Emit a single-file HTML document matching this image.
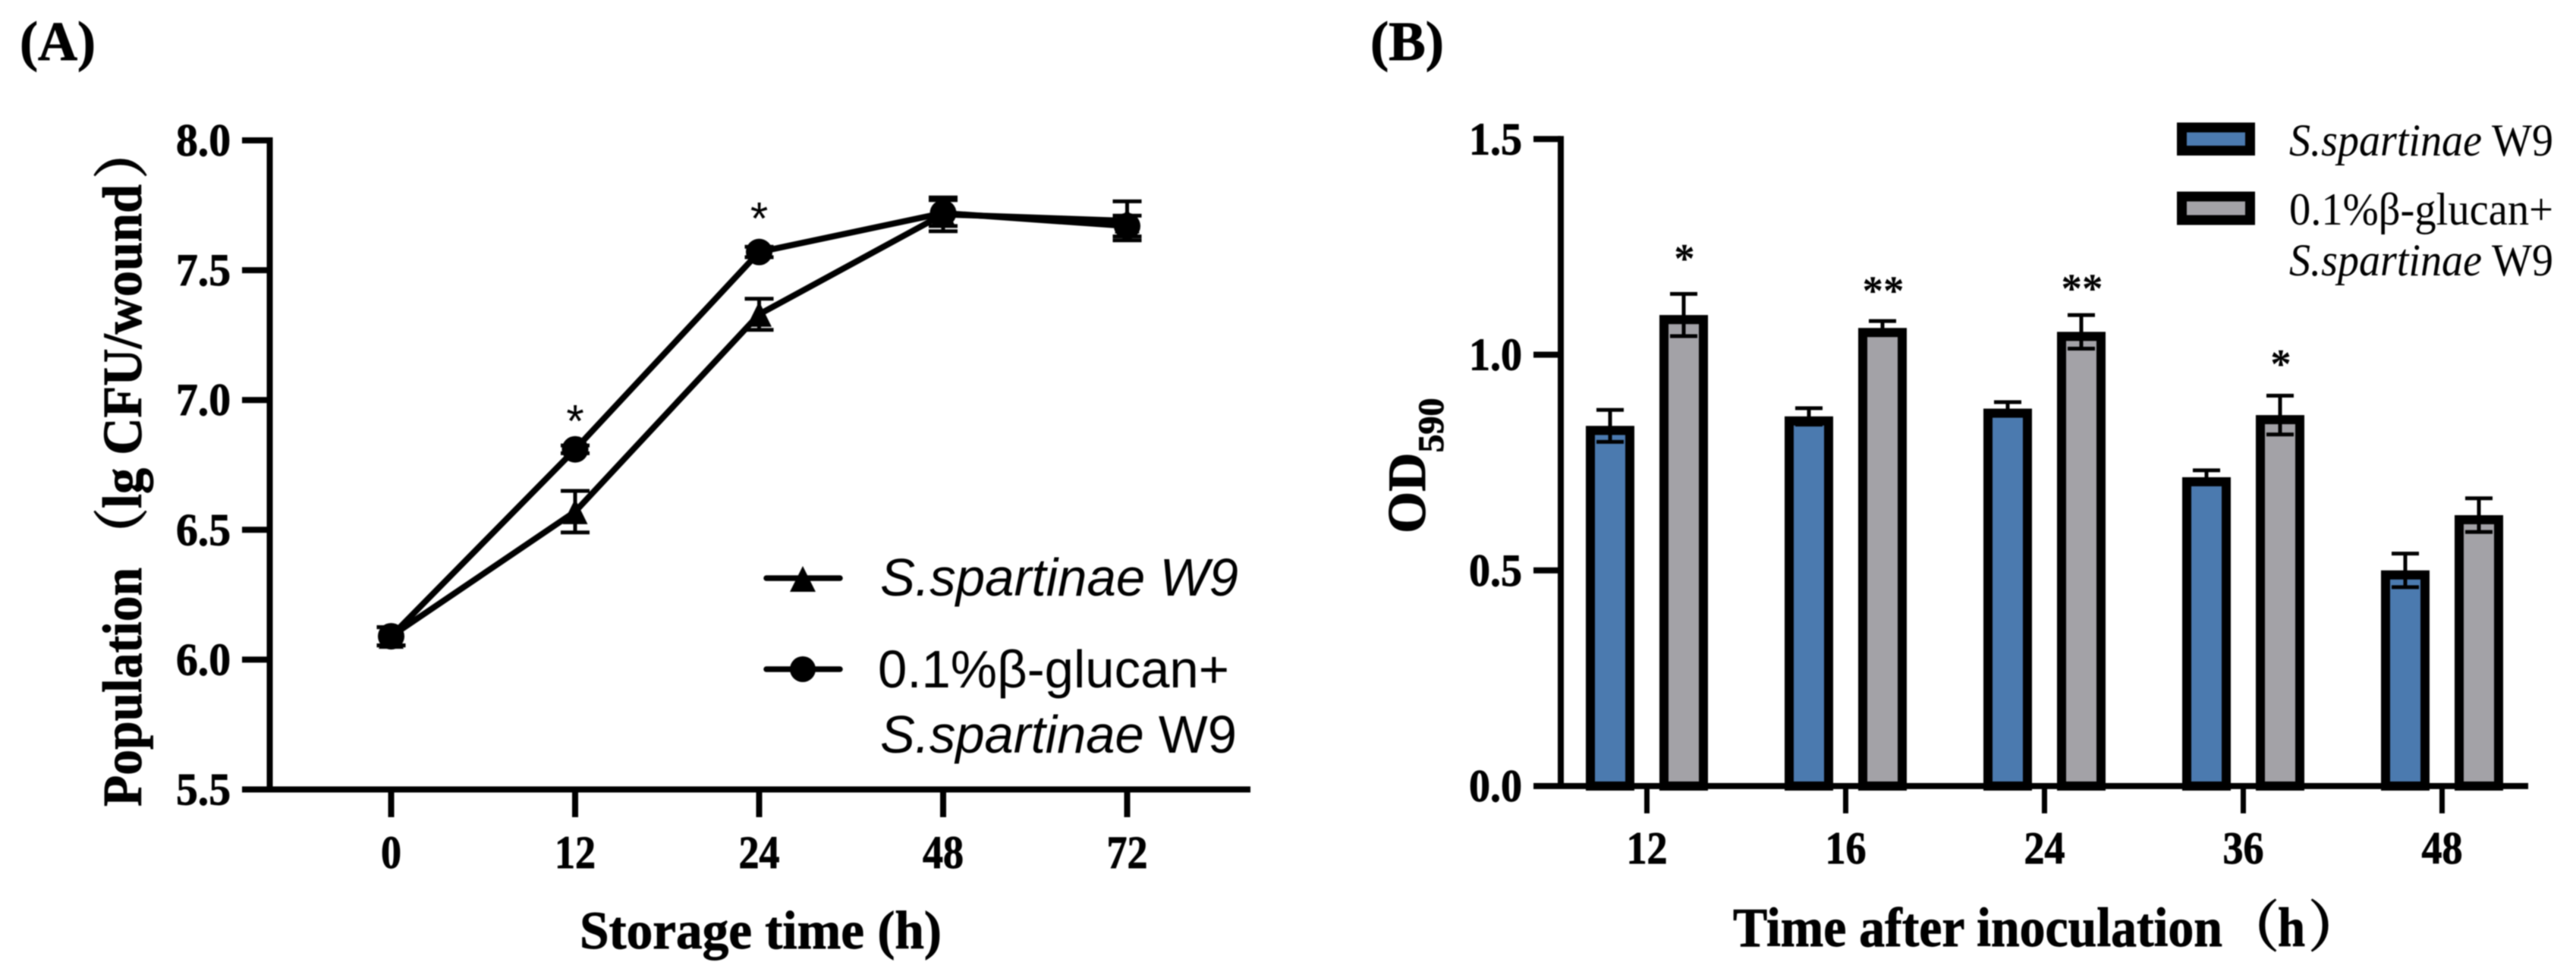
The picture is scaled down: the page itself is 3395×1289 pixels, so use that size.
<!DOCTYPE html>
<html lang="en">
<head>
<meta charset="utf-8">
<title>Population and OD590 of S. spartinae W9</title>
<style>
html,body{margin:0;padding:0;background:#fff;}
svg{display:block;width:3395px;height:1289px;filter:blur(0.7px);}
.serif{font-family:"Liberation Serif","Noto Serif CJK SC",serif;}
.bold{font-weight:bold;stroke:#000;stroke-width:0.9px;}
.sans{font-family:"Liberation Sans",sans-serif;}
</style>
</head>
<body>
<svg id="figure" xmlns="http://www.w3.org/2000/svg" width="3395" height="1289" viewBox="0 0 3395 1289">
  <rect x="0" y="0" width="3395" height="1289" fill="#fff"/>

  <text class="serif bold" x="26" y="79" font-size="73" textLength="100" lengthAdjust="spacingAndGlyphs">(A)</text>
  <text class="serif bold" x="1806" y="79" font-size="73" textLength="97" lengthAdjust="spacingAndGlyphs">(B)</text>

  <g id="chart-a"></g>
  <g id="chart-b"></g>

  <g>
    <text class="serif bold" transform="translate(186,1063) rotate(-90)" font-size="73" textLength="315" lengthAdjust="spacingAndGlyphs">Population</text>
    <text class="serif bold" transform="translate(186,742) rotate(-90)" font-size="73">（</text>
    <text class="serif bold" transform="translate(186,670) rotate(-90)" font-size="73" textLength="427" lengthAdjust="spacingAndGlyphs">lg CFU/wound</text>
    <text class="serif bold" transform="translate(186,236) rotate(-90)" font-size="73">）</text>
  </g>
  <text class="serif bold" x="764" y="1250" font-size="71" textLength="477" lengthAdjust="spacingAndGlyphs">Storage time (h)</text>

  <g>
    <line x1="1010" y1="762" x2="1107" y2="762" stroke="#000" stroke-width="7.5" stroke-linecap="round"/>
    <polygon points="1058,746 1075,780 1041,780" fill="#000"/>
    <text class="sans" x="1160" y="785" font-size="70" font-style="italic" textLength="472" lengthAdjust="spacingAndGlyphs">S.spartinae W9</text>
    <line x1="1010" y1="882" x2="1107" y2="882" stroke="#000" stroke-width="7.5" stroke-linecap="round"/>
    <circle cx="1058" cy="882" r="17" fill="#000"/>
    <text class="sans" x="1157" y="906" font-size="70" textLength="463" lengthAdjust="spacingAndGlyphs">0.1%β-glucan+</text>
    <text class="sans" x="1160" y="992" font-size="70" textLength="470" lengthAdjust="spacingAndGlyphs"><tspan font-style="italic">S.spartinae</tspan> W9</text>
  </g>

  <text class="serif bold" transform="translate(1878,703) rotate(-90)" font-size="71">OD<tspan font-size="48" dy="24">590</tspan></text>
  <g>
    <text class="serif bold" x="2284" y="1247" font-size="73" textLength="645" lengthAdjust="spacingAndGlyphs">Time after inoculation</text>
    <text class="serif bold" x="2931" y="1247" font-size="73">（</text>
    <text class="serif bold" x="3002" y="1247" font-size="73" textLength="36" lengthAdjust="spacingAndGlyphs">h</text>
    <text class="serif bold" x="3042" y="1247" font-size="73">）</text>
  </g>

  <g>
    <rect x="2875.5" y="168" width="90" height="30.5" fill="#4b7aaf" stroke="#000" stroke-width="13"/>
    <text class="serif" x="3017" y="205" font-size="60" textLength="348" lengthAdjust="spacingAndGlyphs"><tspan font-style="italic">S.spartinae</tspan> W9</text>
    <rect x="2875.5" y="259" width="90" height="31" fill="#a3a2a7" stroke="#000" stroke-width="13"/>
    <text class="serif" x="3017" y="296" font-size="60" textLength="348" lengthAdjust="spacingAndGlyphs">0.1%β-glucan+</text>
    <text class="serif" x="3017" y="363" font-size="60" textLength="348" lengthAdjust="spacingAndGlyphs"><tspan font-style="italic">S.spartinae</tspan> W9</text>
  </g>
</svg>

<script>
// ===== Panel A data =====
var aCategories = ['0', '12', '24', '48', '72'];
var aYTicks = [5.5, 6.0, 6.5, 7.0, 7.5, 8.0];
var aYTickLabels = ['5.5', '6.0', '6.5', '7.0', '7.5', '8.0'];
var aTriangleValues = [6.09, 6.57, 7.33, 7.715, 7.69];
var aTriangleErrors = [0.035, 0.08, 0.06, 0.065, 0.075];
var aCircleValues = [6.09, 6.81, 7.57, 7.72, 7.67];
var aCircleErrors = [0.035, 0.015, 0.02, 0.05, 0.04];
var aStarFlags = ['', '*', '*', '', ''];
var aStarValues = [0, 6.955, 7.735, 0, 0];

// ===== Panel B data =====
var bCategories = ['12', '16', '24', '36', '48'];
var bYTicks = [0, 0.5, 1.0, 1.5];
var bYTickLabels = ['0.0', '0.5', '1.0', '1.5'];
var bBlueValues = [0.835, 0.857, 0.875, 0.716, 0.50];
var bBlueErrors = [0.037, 0.019, 0.015, 0.016, 0.039];
var bGrayValues = [1.092, 1.062, 1.053, 0.86, 0.628];
var bGrayErrors = [0.049, 0.016, 0.039, 0.045, 0.039];
var bStarFlags = ['*', '**', '**', '*', ''];
var bStarValues = [1.235, 1.16, 1.165, 0.99, 0];

var SVGNS = 'http://www.w3.org/2000/svg';
function mk(parent, tag, attrs, txt) {
  var el = document.createElementNS(SVGNS, tag);
  for (var k in attrs) { el.setAttribute(k, attrs[k]); }
  if (txt !== undefined) { el.textContent = txt; }
  parent.appendChild(el);
  return el;
}

// ----- axis functions -----
function ax(i) { return 515.5 + i * 242.5; }
function ay(v) { return 1040.5 - (v - 5.5) * 342.2; }
function bx(i) { return 2170.5 + i * 262; }
function by(v) { return 1036 - v * 568.5; }

function errorBar(g, x, yHi, yLo, capW, name) {
  var e = mk(g, 'path', {
    d: 'M' + (x - capW / 2) + ' ' + yHi + 'H' + (x + capW / 2) + 'M' + x + ' ' + yHi + 'V' + yLo + 'M' + (x - capW / 2) + ' ' + yLo + 'H' + (x + capW / 2),
    stroke: '#000', 'stroke-width': 5, fill: 'none'
  });
  
  
}

// ----- Panel A -----
(function () {
  var g = document.getElementById('chart-a');
  var axisY = mk(g, 'line', { x1: 355.5, y1: ay(8) - 4, x2: 355.5, y2: ay(5.5) + 4, stroke: '#000', 'stroke-width': 8 });
  
  
  var axisX = mk(g, 'line', { x1: 319, y1: ay(5.5), x2: 1648, y2: ay(5.5), stroke: '#000', 'stroke-width': 8 });
  
  

  aYTicks.forEach(function (v, i) {
    var t = mk(g, 'line', { x1: 319, y1: ay(v), x2: 355, y2: ay(v), stroke: '#000', 'stroke-width': 8 });
    
    
    var l = mk(g, 'text', { x: 304, y: ay(v) + 20, 'text-anchor': 'end', 'class': 'serif bold', 'font-size': 60, textLength: 72, lengthAdjust: 'spacingAndGlyphs' }, aYTickLabels[i]);
    
    
  });
  aCategories.forEach(function (c, i) {
    var t = mk(g, 'line', { x1: ax(i), y1: ay(5.5), x2: ax(i), y2: 1077, stroke: '#000', 'stroke-width': 8 });
    
    
    var l = mk(g, 'text', { x: ax(i), y: 1144, 'text-anchor': 'middle', 'class': 'serif bold', 'font-size': 61, textLength: c.length * 27, lengthAdjust: 'spacingAndGlyphs' }, c);
    
    
  });

  var triPts = aTriangleValues.map(function (v, i) { return ax(i) + ',' + ay(v); }).join(' ');
  var triLine = mk(g, 'polyline', { points: triPts, fill: 'none', stroke: '#000', 'stroke-width': 8, 'stroke-linejoin': 'round' });
  
  
  var cirPts = aCircleValues.map(function (v, i) { return ax(i) + ',' + ay(v); }).join(' ');
  var cirLine = mk(g, 'polyline', { points: cirPts, fill: 'none', stroke: '#000', 'stroke-width': 8, 'stroke-linejoin': 'round' });
  
  

  aTriangleValues.forEach(function (v, i) {
    errorBar(g, ax(i), ay(v + aTriangleErrors[i]), ay(v - aTriangleErrors[i]), 38, 'a-error-bar-triangle');
    var x = ax(i), y = ay(v);
    var p = mk(g, 'polygon', { points: (x) + ',' + (y - 17) + ' ' + (x + 16.5) + ',' + (y + 16.5) + ' ' + (x - 16.5) + ',' + (y + 16.5), fill: '#000' });
    
    
  });
  aCircleValues.forEach(function (v, i) {
    errorBar(g, ax(i), ay(v + aCircleErrors[i]), ay(v - aCircleErrors[i]), 38, 'a-error-bar-circle');
    var p = mk(g, 'circle', { cx: ax(i), cy: ay(v), r: 17.5, fill: '#000' });
    
    
  });
  aStarFlags.forEach(function (s, i) {
    if (!s) return;
    var t = mk(g, 'text', { x: ax(i), y: ay(aStarValues[i]) + 33, 'text-anchor': 'middle', 'font-family': '"Liberation Sans",sans-serif', 'font-size': 60 }, s);
    
    
  });
})();

// ----- Panel B -----
(function () {
  var g = document.getElementById('chart-b');
  var BAR_W = 52, STROKE = 12, OFFSET = 48.5;

  function drawBar(x, v, fill, name) {
    var top = by(v);
    var r = mk(g, 'rect', { x: x - BAR_W / 2, y: top + STROKE / 2, width: BAR_W, height: by(0) - top - STROKE / 2, fill: fill, stroke: '#000', 'stroke-width': STROKE });
    
    
  }

  bCategories.forEach(function (c, i) {
    drawBar(bx(i) - OFFSET, bBlueValues[i], '#4b7aaf', 'b-bar-blue');
    errorBar(g, bx(i) - OFFSET, by(bBlueValues[i] + bBlueErrors[i]), by(bBlueValues[i] - bBlueErrors[i]), 36, 'b-error-bar-blue');
    drawBar(bx(i) + OFFSET, bGrayValues[i], '#a3a2a7', 'b-bar-gray');
    errorBar(g, bx(i) + OFFSET, by(bGrayValues[i] + bGrayErrors[i]), by(bGrayValues[i] - bGrayErrors[i]), 36, 'b-error-bar-gray');
  });

  var axisY = mk(g, 'line', { x1: 2057, y1: by(1.5) - 4, x2: 2057, y2: by(0) + 4, stroke: '#000', 'stroke-width': 8 });
  
  
  var axisX = mk(g, 'line', { x1: 2021, y1: by(0), x2: 3332, y2: by(0), stroke: '#000', 'stroke-width': 8 });
  
  

  bYTicks.forEach(function (v, i) {
    var t = mk(g, 'line', { x1: 2021, y1: by(v), x2: 2057, y2: by(v), stroke: '#000', 'stroke-width': 8 });
    
    
    var l = mk(g, 'text', { x: 2006, y: by(v) + 20, 'text-anchor': 'end', 'class': 'serif bold', 'font-size': 60, textLength: 70, lengthAdjust: 'spacingAndGlyphs' }, bYTickLabels[i]);
    
    
  });
  bCategories.forEach(function (c, i) {
    var t = mk(g, 'line', { x1: bx(i), y1: by(0), x2: bx(i), y2: 1072, stroke: '#000', 'stroke-width': 7 });
    
    
    var l = mk(g, 'text', { x: bx(i), y: 1138, 'text-anchor': 'middle', 'class': 'serif bold', 'font-size': 60, textLength: c.length * 27, lengthAdjust: 'spacingAndGlyphs' }, c);
    
    
  });
  bStarFlags.forEach(function (s, i) {
    if (!s) return;
    var t = mk(g, 'text', { x: bx(i) + OFFSET + 1, y: by(bStarValues[i]) + 25, 'text-anchor': 'middle', 'font-family': '"Liberation Serif",serif', 'font-weight': 'bold', 'font-size': 55 }, s);
    
    
  });
})();
</script>
</body>
</html>
